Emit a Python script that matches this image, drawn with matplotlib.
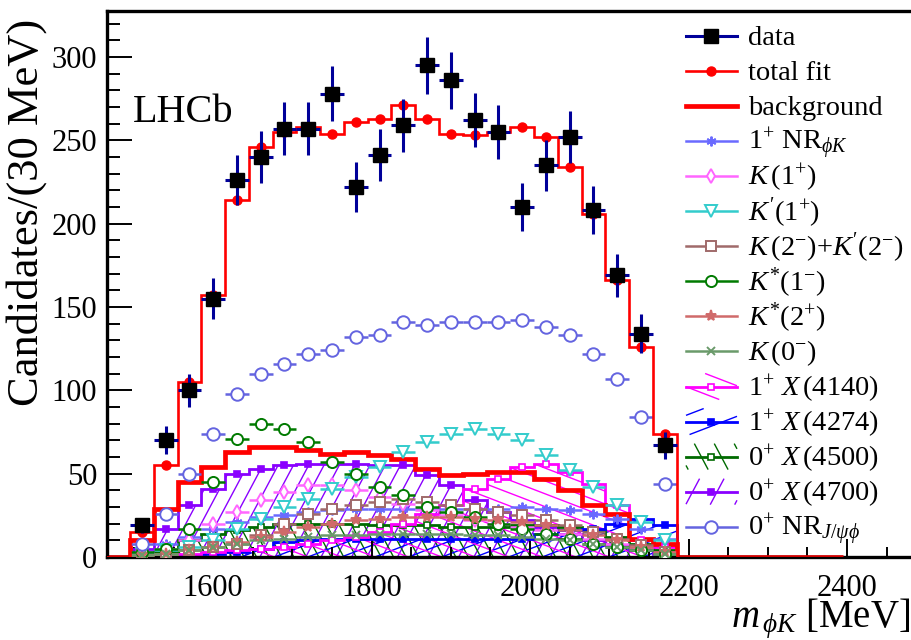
import numpy as np
import matplotlib
matplotlib.use("Agg")
import matplotlib.pyplot as plt
from matplotlib.collections import LineCollection
from matplotlib.ticker import MultipleLocator

plt.rcParams['font.family'] = ['Liberation Serif', 'DejaVu Serif']
plt.rcParams['mathtext.fontset'] = 'custom'
plt.rcParams['mathtext.rm'] = 'Liberation Serif'
plt.rcParams['mathtext.it'] = 'Liberation Serif:italic'
plt.rcParams['mathtext.bf'] = 'Liberation Serif:bold'

# ---- binning (30 MeV bins) ----
BIN_LO = 1495.0
BIN_W = 30.0
RANGE_LO = 1465.0
RANGE_HI = 2395.0

# ---- data and fit projections (candidates per bin) ----
data_counts = [19, 70, 100, 155, 226, 240, 257, 257, 278, 222, 241, 259,
               295, 286, 262, 255, 210, 235, 252, 208, 169, 134, 67]
total_fit = [15, 55, 105, 157, 214, 246, 255, 258, 254, 261, 263, 271,
             263, 254, 253, 255, 258, 252, 234, 206, 166, 126, 74]
background = [10, 29, 45, 54, 63, 66, 66, 64, 62, 63, 61, 59,
              53, 49, 50, 51, 51, 47, 40, 31, 26, 11, 8]

nr_phik = [3, 8, 12, 17, 21, 24, 25, 27, 28, 29, 29, 29,
           29, 29, 29, 29, 30, 29, 28, 26, 23, 17, 11]
k_1p = [2, 5, 10, 20, 27, 34, 39, 43, 43, 40, 36, 32,
        28, 25, 22, 20, 18, 16, 14, 11, 8, 5, 2]
kp_1p = [2, 4, 6, 10, 17, 23, 30, 35, 41, 48, 54, 63,
         69, 74, 77, 74, 70, 61, 52, 42, 31, 21, 10]
k_2m = [1, 2, 4, 6, 8, 13, 20, 26, 29, 31, 33, 35,
        33, 31, 29, 27, 25, 22, 19, 15, 11, 7, 3]
ks_1m = [3, 5, 17, 45, 71, 80, 77, 69, 57, 50, 42, 37,
         30, 27, 24, 20, 17, 14, 11, 8, 6, 4, 2]
ks_2p = [1, 2, 4, 6, 9, 12, 15, 18, 20, 22, 23, 24,
         24, 24, 23, 22, 21, 19, 16, 13, 10, 6, 3]
k_0m = [1, 2, 4, 6, 8, 10, 11, 12, 13, 13, 14, 14,
        14, 14, 13, 13, 12, 11, 10, 8, 6, 4, 2]
x4140 = [0.5, 1, 2, 3, 4, 5, 6, 8, 10, 12, 15, 20,
         26, 31, 41, 47, 54, 56, 51, 44, 31, 10, 6]
x4274 = [0.5, 1, 1.5, 2, 3, 5, 9, 10, 11, 11, 11, 11,
         11, 11, 11, 11, 11, 14, 16, 17, 20, 23, 19]
x4500 = [1, 3, 10, 14, 16, 18, 20, 20, 20, 20, 19, 19,
         19, 18, 18, 18, 19, 19, 18, 16, 12, 8, 4]
x4700 = [5, 17, 31, 41, 50, 53, 55, 56, 56, 56, 55, 55,
         49, 43, 34, 27, 22, 18, 14, 10, 7, 4, 2]
nr_jpsiphi = [8, 26, 50, 74, 98, 110, 116, 122, 124, 132, 133, 141,
              139, 141, 141, 141, 142, 138, 133, 122, 107, 84, 44]

labels = {
    'data': 'data',
    'fit': 'total fit',
    'bkg': 'background',
    'nr_phik': r'$1^{+}$ NR$_{\phi K}$',
    'k_1p': r'$K\,(1^{+})$',
    'kp_1p': r"$K'(1^{+})$",
    'k_2m': r"$K\,(2^{-})$+$K'(2^{-})$",
    'ks_1m': r'$K^{*}(1^{-})$',
    'ks_2p': r'$K^{*}(2^{+})$',
    'k_0m': r'$K\,(0^{-})$',
    'x4140': r'$1^{+}$ $X\,(4140)$',
    'x4274': r'$1^{+}$ $X\,(4274)$',
    'x4500': r'$0^{+}$ $X\,(4500)$',
    'x4700': r'$0^{+}$ $X\,(4700)$',
    'nr_jpsiphi': r'$0^{+}$ NR$_{J/\psi\phi}$',
}

n_bins = len(data_counts)
centers = BIN_LO + BIN_W * (np.arange(n_bins) + 0.5)
edges = np.arange(RANGE_LO, RANGE_HI + 1, BIN_W)
n_before = int(round((BIN_LO - RANGE_LO) / BIN_W))
n_after = len(edges) - 1 - n_before - n_bins


def padded(vals):
    return np.concatenate([np.zeros(n_before), np.asarray(vals, float), np.zeros(n_after)])


def clip_line(p, d, x0, x1, y0, y1):
    t0, t1 = -1e9, 1e9
    for pc, dc, lo, hi in ((p[0], d[0], x0, x1), (p[1], d[1], y0, y1)):
        if abs(dc) < 1e-12:
            if pc < lo or pc > hi:
                return None
        else:
            ta, tb = (lo - pc) / dc, (hi - pc) / dc
            if ta > tb:
                ta, tb = tb, ta
            t0, t1 = max(t0, ta), min(t1, tb)
    if t0 >= t1:
        return None
    return (p[0] + t0 * d[0], p[1] + t0 * d[1]), (p[0] + t1 * d[0], p[1] + t1 * d[1])


def hatch_segments(x0, x1, y0, y1, angle_deg, spacing):
    """Parallel lines at a given angle filling a pixel-space box."""
    a = np.radians(angle_deg)
    d = np.array([np.cos(a), np.sin(a)])
    nrm = np.array([-d[1], d[0]])
    corners = np.array([[x0, y0], [x1, y0], [x0, y1], [x1, y1]])
    proj = corners @ nrm
    segs = []
    start = np.floor(proj.min() / spacing) * spacing
    for c in np.arange(start, proj.max() + spacing, spacing):
        seg = clip_line(nrm * c, d, x0, x1, y0, y1)
        if seg is not None:
            segs.append(seg)
    return segs


# ---- figure ----
W_PX, H_PX = 912, 640
AX_L, AX_R, AX_T, AX_B = 107, 912, 11, 557
fig = plt.figure(figsize=(W_PX / 100, H_PX / 100), dpi=100)
ax = fig.add_axes([AX_L / W_PX, (H_PX - AX_B) / H_PX,
                   (AX_R - AX_L) / W_PX, (AX_B - AX_T) / H_PX])
ax.set_xlim(1466, 2482)
ax.set_ylim(0, 327.6)
axw, axh = AX_R - AX_L, AX_B - AX_T


def px_to_axes(segs):
    # image pixels (y downward) -> axes fraction
    return [[((x - AX_L) / axw, (AX_B - y) / axh) for (x, y) in s] for s in segs]


def axpix_to_axes(segs):
    # axes-local pixels (y upward) -> axes fraction
    return [[(x / axw, y / axh) for (x, y) in s] for s in segs]


# hatched step histograms: (key, values, color, hatch angle, spacing px, filled marker)
hatched = [
    ('x4700', x4700, '#8a00ff', 62, 13.5, True),
    ('x4500', x4500, '#006a00', -62, 11.0, False),
    ('x4274', x4274, '#0000ff', 21, 12.0, True),
    ('x4140', x4140, '#ff00ff', -21, 12.0, False),
]
for key, vals, col, ang, sp, filled in hatched:
    v = padded(vals)
    region = ax.stairs(v, edges, fill=True, facecolor='none', edgecolor='none',
                       linewidth=0, zorder=1)
    segs = axpix_to_axes(hatch_segments(0, axw, 0, axh, ang, sp))
    lc = LineCollection(segs, colors=col, linewidths=1.0, transform=ax.transAxes, zorder=1)
    ax.add_collection(lc)
    lc.set_clip_path(region)
    ax.stairs(v, edges, color=col, linewidth=2.0, zorder=2)
    ax.plot(centers, vals, 's', ms=4.5, color=col,
            mfc=col if filled else 'white', mew=1.2, zorder=2.5)

# background
ax.stairs(padded(background), edges, color='#ff0000', linewidth=3.4, zorder=2.2)

# point-like components with horizontal bin bars
points = [
    ('nr_phik', nr_phik, '#6a6aff', (6, 2, 0), 7, 'full'),
    ('k_1p', k_1p, '#ff66ff', 'd', 7, 'open'),
    ('kp_1p', kp_1p, '#33cccc', 'v', 8, 'open'),
    ('k_2m', k_2m, '#a06a6a', 's', 6.5, 'open'),
    ('ks_1m', ks_1m, '#007a00', 'o', 8, 'open'),
    ('ks_2p', ks_2p, '#d06a6a', '*', 8, 'full'),
    ('k_0m', k_0m, '#6a9a6a', 'x', 6, 'full'),
    ('nr_jpsiphi', nr_jpsiphi, '#6464e0', 'o', 9, 'open'),
]
point_style = {}
for key, vals, col, mk, ms, fill in points:
    mfc = 'white' if fill == 'open' else col
    ax.errorbar(centers, vals, xerr=BIN_W / 2, fmt='none', ecolor=col,
                elinewidth=1.8, capsize=0, zorder=3)
    ax.plot(centers, vals, linestyle='none', marker=mk, ms=ms, color=col,
            mfc=mfc, mec=col, mew=1.4, zorder=3.1)
    point_style[key] = (col, mk, ms, mfc)

# total fit
ax.stairs(padded(total_fit), edges, color='#ff0000', linewidth=1.9, zorder=4)
ax.plot(centers, total_fit, 'o', ms=6.5, color='#ff0000', zorder=4.1)

# data
data_err = np.sqrt(np.asarray(data_counts, float))
ax.errorbar(centers, data_counts, xerr=BIN_W / 2, yerr=data_err, fmt='s',
            ms=9.5, color='black', ecolor='#000099', elinewidth=2.2,
            capsize=0, zorder=5)

# ---- axes styling ----
for side in ('left', 'bottom', 'top'):
    ax.spines[side].set_linewidth(2.4)
ax.spines['right'].set_visible(False)
ax.xaxis.set_major_locator(MultipleLocator(200))
ax.xaxis.set_minor_locator(MultipleLocator(50))
ax.yaxis.set_major_locator(MultipleLocator(50))
ax.yaxis.set_minor_locator(MultipleLocator(10))
ax.tick_params(axis='both', which='both', direction='in', top=False, right=False)
ax.tick_params(axis='y', which='major', length=18, width=1.4, labelsize=22, pad=7)
ax.tick_params(axis='y', which='minor', length=9, width=1.4)
ax.tick_params(axis='x', which='major', length=13, width=1.4, labelsize=22, pad=12)
ax.tick_params(axis='x', which='minor', length=7, width=1.4)

ax.set_ylabel('Candidates/(30 MeV)', fontsize=32, loc='top')
ax.yaxis.set_label_coords(-0.074, 0.985)
ax.set_xlabel(r'$m_{\,\phi K}$ [MeV]', fontsize=28, loc='right')
ax.xaxis.label.set_verticalalignment('baseline')
ax.xaxis.set_label_coords((910 - AX_L) / axw, (AX_B - 627) / axh)

ax.text((133 - AX_L) / axw, (AX_B - 122) / axh, 'LHCb', fontsize=29,
        transform=ax.transAxes, ha='left', va='baseline')

# ---- legend (fixed row pitch) ----
KEY_X0, KEY_X1, TEXT_X = 686, 737, 748
ROW0, ROW_STEP = 36.0, 35.05
order = ['data', 'fit', 'bkg', 'nr_phik', 'k_1p', 'kp_1p', 'k_2m', 'ks_1m',
         'ks_2p', 'k_0m', 'x4140', 'x4274', 'x4500', 'x4700', 'nr_jpsiphi']
hatch_style = {k: (c, a, s, f) for k, _, c, a, s, f in hatched}
kx = [(KEY_X0 - AX_L) / axw, (KEY_X1 - AX_L) / axw]
kmid = (0.5 * (KEY_X0 + KEY_X1) - AX_L) / axw
for i, key in enumerate(order):
    yp = ROW0 + i * ROW_STEP
    ya = (AX_B - yp) / axh
    common = dict(transform=ax.transAxes, clip_on=False, zorder=6)
    if key == 'data':
        ax.plot(kx, [ya, ya], color='#000099', lw=2.2, **common)
        ax.plot([kmid], [ya], 's', ms=9.5, color='black', **common)
    elif key == 'fit':
        ax.plot(kx, [ya, ya], color='#ff0000', lw=1.9, **common)
        ax.plot([kmid], [ya], 'o', ms=6.5, color='#ff0000', **common)
    elif key == 'bkg':
        ax.plot(kx, [ya, ya], color='#ff0000', lw=3.4, **common)
    elif key in hatch_style:
        col, ang, sp, filled = hatch_style[key]
        segs = hatch_segments(KEY_X0, KEY_X1, -(yp + 13), -(yp - 13), ang, sp * 1.6)
        segs = [[(x, -y) for (x, y) in s] for s in segs]
        ax.add_collection(LineCollection(px_to_axes(segs), colors=col, linewidths=1.0,
                                         **common))
        ax.plot(kx, [ya, ya], color=col, lw=2.0, **common)
        ax.plot([kmid], [ya], 's', ms=4.5, color=col, mfc=col if filled else 'white',
                mew=1.2, **common)
    else:
        col, mk, ms, mfc = point_style[key]
        ax.plot(kx, [ya, ya], color=col, lw=1.8, **common)
        ax.plot([kmid], [ya], linestyle='none', marker=mk, ms=ms, color=col,
                mfc=mfc, mec=col, mew=1.4, **common)
    ax.text((TEXT_X - AX_L) / axw, (AX_B - (yp + 9)) / axh, labels[key],
            fontsize=20.5, transform=ax.transAxes, ha='left', va='baseline', zorder=6)

fig.savefig('out.png', dpi=100)
